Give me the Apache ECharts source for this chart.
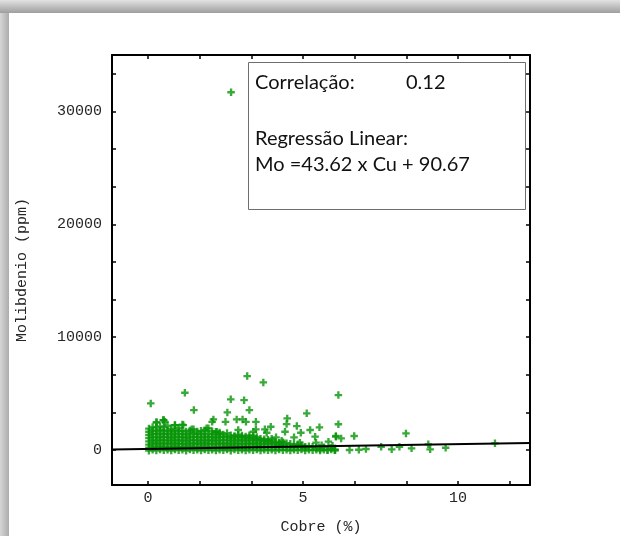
<!DOCTYPE html>
<html>
<head>
<meta charset="utf-8">
<script src="https://cdn.jsdelivr.net/npm/echarts@6/dist/echarts.min.js"></script>
<style>
  html, body { margin: 0; padding: 0; background: #fff; }
  #wrap { position: relative; width: 620px; height: 536px; overflow: hidden; background: #fff; }
  #chart { position: absolute; left: 0; top: 0; width: 620px; height: 536px; }
  .edge-top { position: absolute; left: 0; top: 0; width: 620px; height: 13px;
              background: linear-gradient(to bottom, #e2e2e2, #9e9e9e); }
  .edge-left { position: absolute; left: 0; top: 0; width: 9px; height: 536px;
               background: linear-gradient(to right, #d6d6d6, #acacac); }
</style>
</head>
<body>
<div id="wrap">
  <div id="chart"></div>
  <div class="edge-left"></div>
  <div class="edge-top"></div>
</div>
<script>
// Axis extents and tick labels
const cuRange = [-1.16, 12.32];
const moRange = [-3100, 35000];
const cuLabels = [0, 5, 10];
const moLabels = [0, 10000, 20000, 30000];
const cuTicks = [0, 5 / 3, 10 / 3, 5, 20 / 3, 25 / 3, 10, 35 / 3];
const moTicks = [0, 10000 / 3, 20000 / 3, 10000, 40000 / 3, 50000 / 3, 20000, 70000 / 3, 80000 / 3, 30000, 100000 / 3];

// Regression statistics
const correlation = 0.12;
const slope = 43.62;
const intercept = 90.67;

// Dense body of samples: Cu (%) column and the Mo (ppm) values found in it
const cloudCu = [
  0.03, 0.15, 0.27, 0.39, 0.51, 0.63, 0.75, 0.87, 0.99, 1.11,
  1.23, 1.35, 1.47, 1.59, 1.71, 1.83, 1.95, 2.07, 2.19, 2.31,
  2.43, 2.55, 2.67, 2.79, 2.91, 3.03, 3.15, 3.27, 3.39, 3.51,
  3.63, 3.75, 3.87, 3.99, 4.11, 4.23, 4.35, 4.47, 4.59, 4.71,
  4.83, 4.95, 5.07, 5.19, 5.31, 5.43, 5.55, 5.67, 5.79, 5.91, 6.03
];
const cloudMo = [
  [-60, 200, 480, 760, 1050, 1330, 1620, 1900],
  [20, 310, 600, 880, 1170, 1450, 1740, 2050],
  [-40, 240, 530, 810, 1100, 1380, 1670, 1980, 2450],
  [50, 340, 620, 910, 1190, 1480, 1760, 2100],
  [-20, 260, 550, 830, 1120, 1400, 1690, 2000, 2650],
  [30, 320, 600, 890, 1170, 1460, 1740, 2150],
  [-50, 230, 520, 800, 1090, 1370, 1660, 1900],
  [40, 330, 610, 900, 1180, 1470, 1750, 2200],
  [-30, 250, 540, 820, 1110, 1390, 1680, 1950],
  [20, 310, 590, 880, 1160, 1450, 1730, 2250],
  [-60, 220, 510, 790, 1080, 1360, 1650],
  [50, 340, 620, 910, 1190, 1480, 1720],
  [-20, 260, 550, 830, 1120, 1400, 1830],
  [30, 320, 600, 890, 1170, 1460, 1640],
  [-40, 240, 530, 810, 1100, 1380, 1700],
  [40, 330, 610, 900, 1180, 1470, 1750],
  [-30, 250, 540, 820, 1110, 1390, 1920],
  [20, 310, 590, 880, 1160, 1450, 1660, 2500],
  [-50, 230, 520, 800, 1090, 1370, 1620],
  [30, 320, 600, 890, 1170, 1450, 1550],
  [-20, 260, 550, 830, 1120, 1370],
  [40, 330, 610, 900, 1180, 1500],
  [-60, 220, 510, 790, 1080, 1300],
  [50, 340, 620, 910, 1180, 1250],
  [-30, 250, 540, 820, 1110, 1350, 1770],
  [20, 310, 590, 880, 1160, 1280],
  [-40, 240, 530, 810, 1050, 1200],
  [30, 320, 600, 890, 1100, 1300],
  [-20, 260, 550, 830, 1050, 1250],
  [40, 330, 610, 880, 1150],
  [-50, 230, 520, 800, 1000],
  [20, 310, 590, 800, 950],
  [-30, 250, 540, 760, 900],
  [30, 320, 600, 800, 1000],
  [-40, 240, 500, 720],
  [40, 330, 560, 650],
  [-20, 260, 480, 690],
  [20, 310, 600],
  [-50, 230, 550],
  [30, 320, 470],
  [-30, 250, 500],
  [40, 330, 420],
  [-40, 200, 300],
  [20, 330],
  [-20, 280],
  [30, 200],
  [-40, 60],
  [30, 250],
  [-20, 10],
  [50, 180],
  [-30, 20]
];

// Scattered samples outside the dense body: [Cu %, Mo ppm]
const sparse = [
  [2.68, 31700], [3.20, 6550], [3.72, 5990], [1.19, 5070], [6.14, 4870],
  [2.67, 4490], [0.09, 4130], [3.10, 4420], [1.48, 3540], [3.27, 3540],
  [2.56, 3330], [5.12, 3250], [4.49, 2800], [2.86, 2710], [3.05, 2710],
  [2.11, 2710], [0.49, 2650], [2.50, 2500], [3.16, 2500], [3.48, 2500],
  [0.28, 2450], [0.55, 2500], [4.47, 2300], [6.14, 2280], [1.14, 2210],
  [0.87, 2210], [4.80, 2120], [3.96, 2060], [5.53, 2010], [1.89, 1920],
  [3.48, 1830], [3.77, 1830], [1.41, 1830], [5.23, 1770], [2.22, 1620],
  [3.40, 1620], [4.42, 1620], [4.93, 1530], [3.83, 1530], [8.32, 1470],
  [6.06, 1240], [6.65, 1240], [5.39, 1180], [6.06, 1180], [4.13, 1120],
  [4.71, 1120], [6.23, 1030], [3.50, 950], [4.31, 820], [5.82, 740],
  [4.90, 650], [5.42, 650], [9.04, 500], [11.19, 590], [9.60, 200],
  [7.52, 290], [8.11, 290], [8.50, 150], [7.03, 90], [7.86, 60],
  [9.10, 60], [6.50, 0], [6.03, 0], [6.80, 20], [5.60, 420], [5.95, 380]
];

const points = [];
cloudCu.forEach((cu, i) => cloudMo[i].forEach(mo => points.push([cu, mo])));
sparse.forEach(p => points.push(p));

const fitLine = cuRange.map(cu => [cu, slope * cu + intercept]);

const monoFont = '"Liberation Mono", "Courier New", monospace';
const textColor = '#262626';
const plus = 'path://M2.75,0H5.25V2.75H8V5.25H5.25V8H2.75V5.25H0V2.75H2.75Z';

function valueAxis(range, pos, labels, ticks, showLabels, name, nameGap, labelMargin) {
  return {
    type: 'value',
    position: pos,
    min: range[0],
    max: range[1],
    name: name || '',
    nameLocation: 'middle',
    nameGap: nameGap || 0,
    nameTextStyle: { fontFamily: monoFont, fontSize: 15, color: textColor },
    axisLine: { show: true, onZero: false, lineStyle: { color: '#000', width: 2 } },
    axisTick: { show: true, inside: true, length: 4, customValues: ticks,
                lineStyle: { color: '#000', width: 1.5 } },
    axisLabel: { show: showLabels, customValues: labels, margin: labelMargin || 8,
                 fontFamily: monoFont, fontSize: 15, color: textColor,
                 formatter: v => String(v) },
    splitLine: { show: false }
  };
}

const chart = echarts.init(document.getElementById('chart'), null, { renderer: 'canvas' });
chart.setOption({
  animation: false,
  backgroundColor: '#fff',
  grid: { left: 112, right: 90, top: 55, bottom: 51, containLabel: false, outerBoundsMode: 'none' },
  xAxis: [
    valueAxis(cuRange, 'bottom', cuLabels, cuTicks, true, 'Cobre (%)', 35, 6),
    valueAxis(cuRange, 'top', cuLabels, cuTicks, false)
  ],
  yAxis: [
    valueAxis(moRange, 'left', moLabels, moTicks, true, 'Molibdenio (ppm)', 82, 10),
    valueAxis(moRange, 'right', moLabels, moTicks, false)
  ],
  series: [
    {
      type: 'scatter',
      xAxisIndex: 0,
      yAxisIndex: 0,
      data: points,
      symbol: plus,
      symbolSize: 7.5,
      itemStyle: { color: '#079507' },
      z: 2
    },
    {
      type: 'line',
      xAxisIndex: 0,
      yAxisIndex: 0,
      data: fitLine,
      symbol: 'none',
      lineStyle: { color: '#000', width: 2 },
      z: 3
    }
  ],
  graphic: [
    {
      type: 'group',
      left: 248,
      top: 62,
      children: [
        { type: 'rect', shape: { x: 0.5, y: 0.5, width: 277, height: 147 },
          style: { fill: '#fff', stroke: '#6e6e6e', lineWidth: 1 } },
        { type: 'text', x: 7, y: 21,
          style: { text: 'Correlação:', font: '20px Lato', fill: '#111', verticalAlign: 'middle' } },
        { type: 'text', x: 158, y: 21,
          style: { text: correlation.toFixed(2), font: '20px Lato', fill: '#111', verticalAlign: 'middle' } },
        { type: 'text', x: 7, y: 77,
          style: { text: 'Regressão Linear:', font: '20px Lato', fill: '#111', verticalAlign: 'middle' } },
        { type: 'text', x: 7, y: 103,
          style: { text: 'Mo =' + slope.toFixed(2) + ' x Cu + ' + intercept.toFixed(2),
                   font: '20px Lato', fill: '#111', verticalAlign: 'middle' } }
      ]
    }
  ]
});
</script>
</body>
</html>
